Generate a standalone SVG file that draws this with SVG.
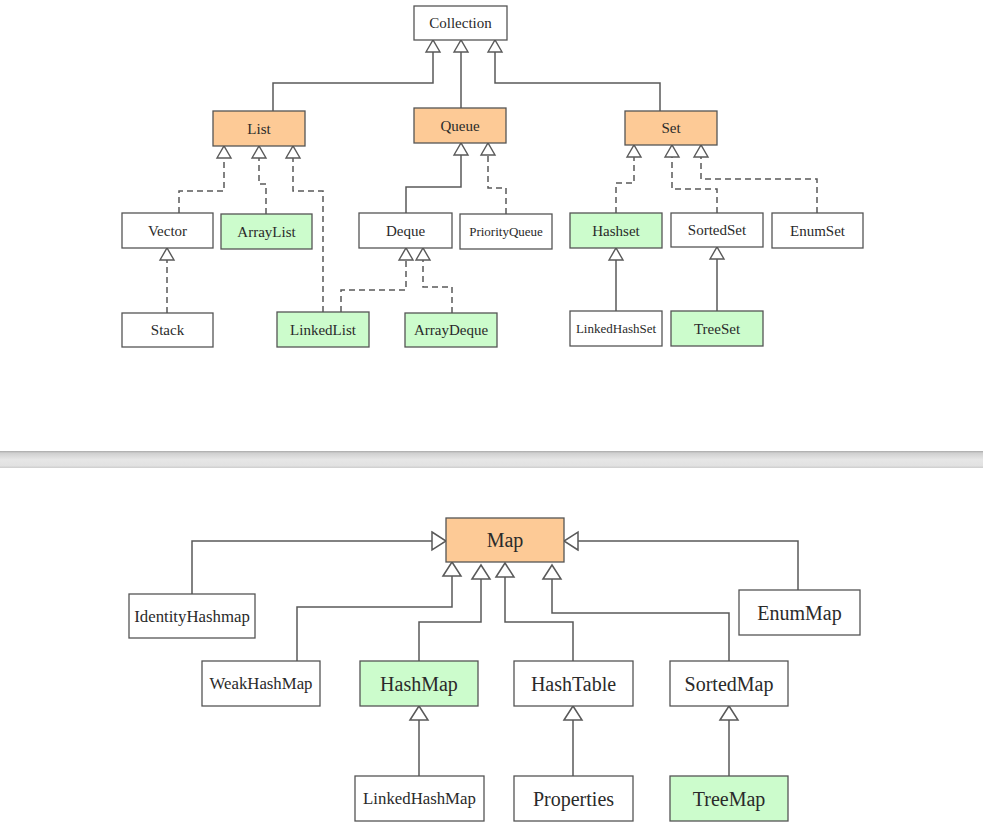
<svg xmlns="http://www.w3.org/2000/svg" width="983" height="832" viewBox="0 0 983 832">
  <style>
    .box { stroke: #555; stroke-width: 1.3; fill: #fff; }
    .iface { fill: #fdca96; }
    .impl { fill: #ccfccc; }
    .lbl { font-family: "Liberation Serif", "Times New Roman", serif; fill: #2a2a2a; text-anchor: middle; dominant-baseline: central; }
    .t15 { font-size: 15px; }
    .t13 { font-size: 13px; }
    .b20 { font-size: 20px; }
    .b17 { font-size: 16.8px; }
    .edge { fill: none; stroke: #595959; stroke-width: 1.5; }
    .dash { stroke-dasharray: 6 4; }
    .up { marker-end: url(#tri); }
    .upL { marker-end: url(#triL); }
  </style>
  <defs>
    <!-- hollow generalisation arrowheads -->
    <marker id="tri" markerUnits="userSpaceOnUse" markerWidth="16" markerHeight="18" refX="12" refY="7" orient="auto" overflow="visible">
      <path d="M0,0 L12,7 L0,14 Z" fill="#fff" stroke="#595959" stroke-width="1.4"/>
    </marker>
    <marker id="triL" markerUnits="userSpaceOnUse" markerWidth="18" markerHeight="22" refX="14" refY="9" orient="auto" overflow="visible">
      <path d="M0,0 L14,9 L0,18 Z" fill="#fff" stroke="#595959" stroke-width="1.5"/>
    </marker>
    <linearGradient id="band" x1="0" y1="0" x2="0" y2="1">
      <stop offset="0" stop-color="#a9a9a9"/>
      <stop offset="0.12" stop-color="#cfcfcf"/>
      <stop offset="0.5" stop-color="#e6e6e6"/>
      <stop offset="0.85" stop-color="#e2e2e2"/>
      <stop offset="1" stop-color="#cdcdcd"/>
    </linearGradient>
  </defs>

  <rect x="0" y="0" width="983" height="832" fill="#fff"/>

  <!-- connectors -->
  <g id="connectors">
    <!-- Collection hierarchy -->
    <path class="edge up" d="M273,111 V83 H433 V40"/>
    <path class="edge up" d="M461,108 V40"/>
    <path class="edge up" d="M660,111 V83 H495 V40"/>
    <path class="edge dash up" d="M179,213 V191 H224 V146"/>
    <path class="edge dash up" d="M266,214 V184 H259 V146"/>
    <path class="edge dash up" d="M323,312 V191 H293 V146"/>
    <path class="edge dash up" d="M167,313 V248"/>
    <path class="edge up" d="M406,213 V187 H461 V143"/>
    <path class="edge dash up" d="M506,214 V188 H488 V143"/>
    <path class="edge dash up" d="M341,312 V290 H406 V248"/>
    <path class="edge dash up" d="M452,313 V287 H423 V248"/>
    <path class="edge dash up" d="M616,213 V183 H634 V145"/>
    <path class="edge dash up" d="M717,213 V189 H672 V145"/>
    <path class="edge dash up" d="M817,213 V179 H701 V145"/>
    <path class="edge up" d="M616,311 V248"/>
    <path class="edge up" d="M717,311 V247"/>
    <!-- Map hierarchy -->
    <path class="edge upL" d="M192,594 V541 H446"/>
    <path class="edge upL" d="M798,590 V541 H564"/>
    <path class="edge upL" d="M297,661 V607 H452 V562"/>
    <path class="edge upL" d="M419,661 V622 H481 V565"/>
    <path class="edge upL" d="M573,661 V622 H505 V563"/>
    <path class="edge upL" d="M729,661 V613 H552 V565"/>
    <path class="edge upL" d="M419,776 V706"/>
    <path class="edge upL" d="M573,776 V706"/>
    <path class="edge upL" d="M729,776 V706"/>
  </g>

  <!-- Collection nodes -->
  <g id="collection"><rect class="box" x="414" y="6" width="93" height="34"/><text class="lbl t15" x="460.5" y="23">Collection</text></g>
  <g id="list"><rect class="box iface" x="213" y="111" width="92" height="35"/><text class="lbl t15" x="259" y="128.5">List</text></g>
  <g id="queue"><rect class="box iface" x="414" y="108" width="92" height="35"/><text class="lbl t15" x="460" y="125.5">Queue</text></g>
  <g id="set"><rect class="box iface" x="625" y="111" width="92" height="34"/><text class="lbl t15" x="671" y="128">Set</text></g>
  <g id="vector"><rect class="box" x="122" y="213" width="91" height="35"/><text class="lbl t15" x="167.5" y="230.5">Vector</text></g>
  <g id="arraylist"><rect class="box impl" x="221" y="214" width="91" height="35"/><text class="lbl t15" x="266.5" y="231.5">ArrayList</text></g>
  <g id="deque"><rect class="box" x="359" y="213" width="93" height="35"/><text class="lbl t15" x="405.5" y="230.5">Deque</text></g>
  <g id="priorityqueue"><rect class="box" x="460" y="214" width="92" height="35"/><text class="lbl t13" x="506" y="231.5">PriorityQueue</text></g>
  <g id="hashset"><rect class="box impl" x="570" y="213" width="92" height="35"/><text class="lbl t15" x="616" y="230.5">Hashset</text></g>
  <g id="sortedset"><rect class="box" x="671" y="213" width="92" height="34"/><text class="lbl t15" x="717" y="230">SortedSet</text></g>
  <g id="enumset"><rect class="box" x="772" y="213" width="91" height="35"/><text class="lbl t15" x="817.5" y="230.5">EnumSet</text></g>
  <g id="stack"><rect class="box" x="122" y="313" width="91" height="34"/><text class="lbl t15" x="167.5" y="330">Stack</text></g>
  <g id="linkedlist"><rect class="box impl" x="277" y="312" width="92" height="35"/><text class="lbl t15" x="323" y="329.5">LinkedList</text></g>
  <g id="arraydeque"><rect class="box impl" x="405" y="313" width="92" height="34"/><text class="lbl t15" x="451" y="330">ArrayDeque</text></g>
  <g id="linkedhashset"><rect class="box" x="570" y="311" width="92" height="35"/><text class="lbl t13" x="616" y="328.5">LinkedHashSet</text></g>
  <g id="treeset"><rect class="box impl" x="671" y="311" width="92" height="35"/><text class="lbl t15" x="717" y="328.5">TreeSet</text></g>

  <!-- separator band -->
  <rect x="0" y="451" width="983" height="17" fill="url(#band)"/>

  <!-- Map nodes -->
  <g id="map"><rect class="box iface" x="446" y="518" width="118" height="44"/><text class="lbl b20" x="505" y="540">Map</text></g>
  <g id="identityhashmap"><rect class="box" x="129" y="594" width="126" height="44"/><text class="lbl b17" x="192" y="616">IdentityHashmap</text></g>
  <g id="enummap"><rect class="box" x="739" y="590" width="121" height="45"/><text class="lbl b20" x="799.5" y="612.5">EnumMap</text></g>
  <g id="weakhashmap"><rect class="box" x="202" y="661" width="118" height="45"/><text class="lbl b17" x="261" y="683.5">WeakHashMap</text></g>
  <g id="hashmap"><rect class="box impl" x="360" y="661" width="118" height="45"/><text class="lbl b20" x="419" y="683.5">HashMap</text></g>
  <g id="hashtable"><rect class="box" x="514" y="661" width="119" height="45"/><text class="lbl b20" x="573.5" y="683.5">HashTable</text></g>
  <g id="sortedmap"><rect class="box" x="670" y="661" width="118" height="45"/><text class="lbl b20" x="729" y="683.5">SortedMap</text></g>
  <g id="linkedhashmap"><rect class="box" x="355" y="776" width="129" height="45"/><text class="lbl b17" x="419.5" y="798.5">LinkedHashMap</text></g>
  <g id="properties"><rect class="box" x="514" y="776" width="119" height="45"/><text class="lbl b20" x="573.5" y="798.5">Properties</text></g>
  <g id="treemap"><rect class="box impl" x="670" y="776" width="118" height="45"/><text class="lbl b20" x="729" y="798.5">TreeMap</text></g>
</svg>
